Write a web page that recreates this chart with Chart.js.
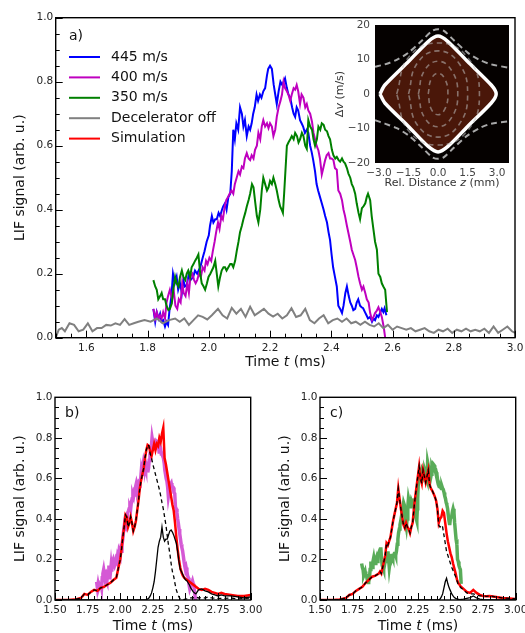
<!DOCTYPE html>
<html>
<head>
<meta charset="utf-8">
<script src="https://cdn.jsdelivr.net/npm/chart.js@4.4.0/dist/chart.umd.min.js"></script>
<style>
  html, body { margin: 0; padding: 0; background: #fff; }
  #wrap { position: relative; width: 525px; height: 633px; overflow: hidden; }
  #wrap canvas { position: absolute; left: 0; top: 0; }
</style>
</head>
<body>
<div id="wrap">
  <canvas id="chartA" width="525" height="633"></canvas>
  <canvas id="chartB" width="525" height="633"></canvas>
  <canvas id="chartC" width="525" height="633"></canvas>
  <canvas id="inset" width="525" height="633"></canvas>
</div>
<script>
// ---- panel a: measured LIF traces, [time (ms), signal] ----
const blue445 = [
  [1.819,0.09],[1.825,0.05],[1.830,0.08],[1.836,0.06],[1.841,0.075],[1.846,0.05],[1.851,0.055],[1.857,0.035],[1.862,0.05],[1.867,0.04],
  [1.872,0.09],[1.878,0.13],[1.883,0.20],[1.889,0.17],[1.895,0.19],[1.900,0.15],[1.906,0.17],[1.912,0.14],[1.917,0.18],[1.922,0.16],
  [1.928,0.165],[1.935,0.20],[1.940,0.18],[1.949,0.19],[1.955,0.21],[1.962,0.20],[1.972,0.22],[1.980,0.25],[1.986,0.27],[1.993,0.30],
  [2.000,0.32],[2.004,0.35],[2.010,0.38],[2.015,0.36],[2.021,0.37],[2.026,0.37],[2.032,0.39],[2.037,0.38],[2.043,0.40],[2.047,0.41],
  [2.053,0.42],[2.058,0.40],[2.064,0.44],[2.070,0.45],[2.075,0.52],[2.080,0.65],[2.085,0.62],[2.090,0.67],[2.096,0.65],[2.102,0.72],
  [2.108,0.70],[2.113,0.66],[2.118,0.68],[2.124,0.63],[2.130,0.66],[2.135,0.65],[2.140,0.67],[2.145,0.70],[2.150,0.72],[2.156,0.76],
  [2.161,0.74],[2.167,0.76],[2.172,0.75],[2.178,0.77],[2.184,0.78],[2.190,0.82],[2.194,0.84],[2.200,0.85],[2.206,0.84],[2.212,0.79],
  [2.217,0.76],[2.222,0.73],[2.228,0.77],[2.234,0.80],[2.240,0.79],[2.249,0.81],[2.255,0.78],[2.260,0.76],[2.266,0.75],[2.272,0.72],
  [2.277,0.70],[2.282,0.69],[2.287,0.72],[2.292,0.71],[2.298,0.68],[2.303,0.67],[2.308,0.66],[2.314,0.64],[2.320,0.65],[2.325,0.64],
  [2.331,0.60],[2.336,0.58],[2.341,0.555],[2.347,0.52],[2.352,0.48],[2.357,0.46],[2.363,0.44],[2.369,0.42],[2.375,0.40],[2.380,0.38],
  [2.386,0.36],[2.391,0.33],[2.396,0.305],[2.401,0.26],[2.406,0.22],[2.412,0.19],[2.418,0.16],[2.423,0.10],[2.429,0.09],[2.435,0.077],
  [2.440,0.10],[2.446,0.14],[2.451,0.16],[2.457,0.13],[2.462,0.11],[2.467,0.10],[2.472,0.086],[2.478,0.09],[2.483,0.11],[2.488,0.12],
  [2.494,0.10],[2.499,0.095],[2.504,0.092],[2.510,0.08],[2.515,0.07],[2.520,0.06],[2.527,0.065],[2.533,0.05],[2.538,0.06],[2.543,0.055],
  [2.549,0.07],[2.554,0.065],[2.559,0.077],[2.565,0.09],[2.570,0.08],[2.574,0.092],[2.580,0.07]
];
const mag400 = [
  [1.819,0.09],[1.825,0.06],[1.830,0.08],[1.836,0.06],[1.841,0.07],[1.846,0.06],[1.851,0.08],[1.857,0.06],[1.862,0.11],[1.867,0.13],
  [1.873,0.15],[1.880,0.12],[1.885,0.15],[1.891,0.10],[1.897,0.09],[1.902,0.12],[1.908,0.11],[1.913,0.17],[1.918,0.14],[1.924,0.13],
  [1.930,0.17],[1.935,0.14],[1.940,0.19],[1.946,0.20],[1.952,0.18],[1.957,0.17],[1.962,0.18],[1.968,0.20],[1.974,0.19],[1.980,0.22],
  [1.986,0.21],[1.991,0.24],[1.996,0.23],[2.002,0.25],[2.008,0.24],[2.013,0.27],[2.019,0.30],[2.024,0.33],[2.030,0.36],[2.035,0.34],
  [2.041,0.38],[2.046,0.37],[2.052,0.41],[2.057,0.43],[2.063,0.44],[2.068,0.45],[2.074,0.46],[2.080,0.45],[2.085,0.48],[2.091,0.50],
  [2.097,0.52],[2.102,0.51],[2.108,0.535],[2.113,0.53],[2.118,0.56],[2.124,0.577],[2.130,0.56],[2.135,0.555],[2.140,0.57],[2.146,0.56],
  [2.151,0.587],[2.157,0.60],[2.162,0.64],[2.168,0.62],[2.173,0.66],[2.178,0.68],[2.184,0.66],[2.190,0.67],[2.195,0.655],[2.200,0.67],
  [2.206,0.66],[2.211,0.63],[2.217,0.65],[2.222,0.69],[2.228,0.72],[2.234,0.74],[2.239,0.76],[2.244,0.80],[2.249,0.78],[2.255,0.77],
  [2.260,0.76],[2.266,0.74],[2.271,0.76],[2.277,0.78],[2.282,0.775],[2.287,0.79],[2.292,0.77],[2.298,0.73],[2.303,0.76],[2.309,0.75],
  [2.315,0.72],[2.320,0.73],[2.325,0.71],[2.331,0.70],[2.337,0.675],[2.342,0.64],[2.347,0.62],[2.352,0.60],[2.358,0.585],[2.363,0.56],
  [2.369,0.51],[2.374,0.53],[2.380,0.555],[2.385,0.57],[2.391,0.577],[2.396,0.56],[2.401,0.56],[2.407,0.555],[2.412,0.53],[2.418,0.525],
  [2.423,0.46],[2.429,0.45],[2.435,0.43],[2.440,0.40],[2.445,0.38],[2.451,0.35],[2.456,0.327],[2.462,0.30],[2.467,0.275],[2.472,0.26],
  [2.478,0.243],[2.483,0.22],[2.489,0.19],[2.494,0.17],[2.500,0.15],[2.505,0.16],[2.511,0.14],[2.516,0.12],[2.522,0.11],[2.527,0.077],
  [2.533,0.055],[2.538,0.065],[2.543,0.077],[2.549,0.085],[2.554,0.095],[2.560,0.08],[2.565,0.065],[2.571,0.035],[2.576,0.0]
];
const green350 = [
  [1.819,0.18],[1.825,0.16],[1.830,0.15],[1.835,0.12],[1.841,0.13],[1.846,0.14],[1.851,0.12],[1.857,0.12],[1.862,0.10],[1.868,0.086],
  [1.873,0.09],[1.879,0.107],[1.884,0.15],[1.890,0.19],[1.895,0.17],[1.901,0.16],[1.906,0.19],[1.912,0.21],[1.917,0.19],[1.923,0.18],
  [1.928,0.20],[1.933,0.21],[1.939,0.19],[1.944,0.22],[1.950,0.23],[1.955,0.24],[1.961,0.25],[1.966,0.26],[1.972,0.20],[1.977,0.17],
  [1.983,0.16],[1.988,0.15],[1.994,0.17],[1.999,0.19],[2.005,0.20],[2.010,0.21],[2.015,0.22],[2.021,0.24],[2.026,0.20],[2.031,0.16],
  [2.037,0.19],[2.042,0.21],[2.048,0.22],[2.053,0.22],[2.058,0.21],[2.064,0.22],[2.070,0.23],[2.075,0.23],[2.080,0.22],[2.086,0.24],
  [2.092,0.275],[2.097,0.30],[2.102,0.33],[2.108,0.35],[2.113,0.37],[2.119,0.39],[2.124,0.41],[2.130,0.43],[2.135,0.45],[2.141,0.48],
  [2.146,0.47],[2.152,0.42],[2.157,0.38],[2.162,0.36],[2.168,0.40],[2.173,0.46],[2.178,0.50],[2.184,0.48],[2.190,0.46],[2.195,0.47],
  [2.200,0.49],[2.206,0.48],[2.211,0.50],[2.217,0.48],[2.222,0.46],[2.228,0.43],[2.233,0.41],[2.238,0.40],[2.242,0.39],[2.246,0.45],
  [2.249,0.50],[2.255,0.60],[2.260,0.61],[2.266,0.62],[2.271,0.63],[2.277,0.62],[2.282,0.64],[2.288,0.63],[2.293,0.61],[2.298,0.62],
  [2.304,0.64],[2.309,0.63],[2.315,0.60],[2.320,0.59],[2.325,0.68],[2.331,0.66],[2.337,0.65],[2.342,0.62],[2.347,0.60],[2.353,0.62],
  [2.358,0.66],[2.364,0.65],[2.369,0.67],[2.375,0.665],[2.380,0.65],[2.386,0.645],[2.391,0.63],[2.396,0.62],[2.402,0.587],[2.407,0.57],
  [2.413,0.56],[2.418,0.565],[2.424,0.555],[2.429,0.55],[2.435,0.56],[2.440,0.55],[2.445,0.545],[2.451,0.53],[2.456,0.513],[2.462,0.50],
  [2.467,0.48],[2.472,0.47],[2.478,0.45],[2.483,0.42],[2.489,0.39],[2.494,0.37],[2.500,0.405],[2.505,0.41],[2.511,0.42],[2.516,0.44],
  [2.520,0.45],[2.527,0.43],[2.532,0.38],[2.538,0.336],[2.543,0.30],[2.549,0.275],[2.554,0.20],[2.560,0.19],[2.565,0.17],[2.570,0.16],
  [2.576,0.15],[2.582,0.08]
];
const decelOff = [
  [1.500,0.0],[1.510,0.025],[1.520,0.03],[1.530,0.02],[1.545,0.045],[1.560,0.04],[1.575,0.02],[1.590,0.025],[1.605,0.045],[1.620,0.02],
  [1.635,0.03],[1.650,0.03],[1.665,0.04],[1.680,0.038],[1.695,0.045],[1.710,0.04],[1.725,0.058],[1.740,0.04],[1.755,0.045],[1.770,0.05],
  [1.790,0.055],[1.810,0.05],[1.830,0.06],[1.850,0.045],[1.870,0.055],[1.890,0.06],[1.905,0.05],[1.920,0.06],[1.935,0.04],[1.950,0.055],
  [1.965,0.07],[1.980,0.065],[1.995,0.057],[2.010,0.07],[2.030,0.09],[2.045,0.07],[2.060,0.06],[2.075,0.093],[2.090,0.075],[2.105,0.09],
  [2.120,0.065],[2.135,0.097],[2.150,0.07],[2.165,0.08],[2.180,0.09],[2.195,0.075],[2.210,0.066],[2.225,0.075],[2.240,0.06],[2.255,0.07],
  [2.270,0.092],[2.285,0.065],[2.300,0.07],[2.315,0.09],[2.330,0.055],[2.345,0.045],[2.360,0.06],[2.375,0.07],[2.390,0.045],[2.405,0.055],
  [2.420,0.06],[2.435,0.05],[2.450,0.06],[2.465,0.045],[2.480,0.05],[2.495,0.04],[2.510,0.05],[2.525,0.04],[2.540,0.035],[2.555,0.045],
  [2.570,0.03],[2.585,0.04],[2.600,0.025],[2.615,0.035],[2.630,0.03],[2.645,0.025],[2.660,0.03],[2.675,0.02],[2.690,0.025],[2.705,0.03],
  [2.720,0.02],[2.735,0.015],[2.750,0.025],[2.765,0.02],[2.780,0.028],[2.795,0.015],[2.810,0.025],[2.825,0.02],[2.840,0.028],[2.855,0.02],
  [2.870,0.025],[2.885,0.02],[2.900,0.028],[2.915,0.015],[2.930,0.035],[2.945,0.015],[2.960,0.025],[2.975,0.035],[2.990,0.02],[3.000,0.015]
];

// ---- panel b: simulation for 400 m/s (total, dashed part, solid part) ----
const simB = [
  [1.50,0],[1.55,0],[1.60,0],[1.65,0.002],[1.70,0.01],[1.725,0.03],[1.75,0.025],[1.775,0.04],[1.80,0.05],[1.825,0.045],
  [1.85,0.06],[1.875,0.065],[1.90,0.075],[1.925,0.085],[1.95,0.10],[1.96,0.105],[1.97,0.11],[1.98,0.14],[1.99,0.17],[2.00,0.20],
  [2.01,0.25],[2.02,0.31],[2.03,0.36],[2.04,0.42],[2.05,0.41],[2.06,0.36],[2.07,0.38],[2.08,0.41],[2.09,0.38],[2.10,0.34],
  [2.11,0.36],[2.12,0.39],[2.13,0.44],[2.14,0.49],[2.15,0.55],[2.16,0.59],[2.17,0.62],[2.18,0.65],[2.19,0.70],[2.20,0.74],
  [2.21,0.765],[2.22,0.76],[2.23,0.73],[2.24,0.71],[2.25,0.74],[2.26,0.77],[2.27,0.74],[2.28,0.77],[2.29,0.76],[2.30,0.80],
  [2.31,0.78],[2.32,0.82],[2.33,0.85],[2.34,0.70],[2.35,0.67],[2.36,0.63],[2.37,0.59],[2.38,0.55],[2.39,0.51],[2.40,0.47],
  [2.41,0.44],[2.42,0.38],[2.43,0.31],[2.44,0.25],[2.45,0.20],[2.46,0.16],[2.47,0.135],[2.48,0.12],[2.49,0.11],[2.50,0.105],
  [2.51,0.10],[2.52,0.095],[2.53,0.09],[2.54,0.085],[2.55,0.08],[2.56,0.075],[2.57,0.07],[2.58,0.065],[2.59,0.06],[2.60,0.055],
  [2.625,0.05],[2.65,0.055],[2.675,0.05],[2.70,0.04],[2.725,0.035],[2.75,0.03],[2.775,0.035],[2.80,0.03],[2.85,0.025],[2.90,0.02],
  [2.95,0.02],[3.00,0.025]
];
const dashBSplit = 2.22;   // dashed part follows the total up to here
const dashBTail = [
  [2.23,0.72],[2.24,0.70],[2.25,0.67],[2.26,0.645],[2.27,0.62],[2.28,0.595],[2.29,0.57],[2.30,0.545],[2.31,0.515],[2.32,0.48],
  [2.33,0.45],[2.34,0.41],[2.35,0.37],[2.36,0.32],[2.37,0.27],[2.38,0.23],[2.39,0.18],[2.40,0.14],[2.41,0.115],[2.42,0.08],
  [2.43,0.05],[2.44,0.03],[2.45,0.015],[2.46,0.005],[2.48,0.002],[2.50,0.004],[2.52,0.006],[2.54,0.01],[2.56,0.01],[2.58,0.015],
  [2.60,0.01],[2.625,0.012],[2.65,0.01],[2.675,0.015],[2.70,0.01],[2.75,0.008],[2.80,0.008],[2.85,0.01],[2.90,0.005],[2.95,0.008],[3.00,0.01]
];
const solidB = [
  [1.50,0],[2.20,0],[2.21,0.005],[2.22,0.01],[2.23,0.02],[2.24,0.035],[2.25,0.06],[2.26,0.09],[2.27,0.14],[2.28,0.20],
  [2.29,0.26],[2.30,0.29],[2.31,0.31],[2.32,0.36],[2.33,0.31],[2.34,0.29],[2.35,0.30],[2.36,0.30],[2.37,0.32],[2.38,0.34],
  [2.39,0.345],[2.40,0.335],[2.41,0.32],[2.42,0.30],[2.43,0.28],[2.44,0.24],[2.45,0.19],[2.46,0.15],[2.47,0.14],[2.48,0.125],
  [2.49,0.11],[2.50,0.10],[2.51,0.095],[2.52,0.085],[2.53,0.075],[2.54,0.06],[2.55,0.05],[2.56,0.04],[2.57,0.035],[2.58,0.03],
  [2.59,0.04],[2.60,0.05],[2.625,0.055],[2.65,0.045],[2.675,0.04],[2.70,0.03],[2.725,0.025],[2.75,0.02],[2.775,0.025],[2.80,0.02],
  [2.85,0.02],[2.90,0.015],[2.95,0.01],[3.00,0.015]
];

// ---- panel c: simulation for 350 m/s ----
const simC = [
  [1.50,0],[1.55,0],[1.60,0],[1.65,0.003],[1.70,0.01],[1.725,0.025],[1.75,0.03],[1.775,0.045],[1.80,0.055],[1.825,0.065],
  [1.85,0.085],[1.875,0.10],[1.90,0.115],[1.925,0.12],[1.95,0.13],[1.96,0.14],[1.97,0.13],[1.98,0.16],[1.99,0.19],[2.00,0.22],
  [2.01,0.28],[2.02,0.27],[2.03,0.29],[2.04,0.31],[2.05,0.35],[2.06,0.39],[2.07,0.42],[2.08,0.45],[2.09,0.48],[2.10,0.55],
  [2.11,0.50],[2.12,0.45],[2.13,0.41],[2.14,0.37],[2.15,0.355],[2.16,0.38],[2.17,0.36],[2.18,0.35],[2.19,0.33],[2.20,0.36],
  [2.21,0.38],[2.22,0.45],[2.23,0.51],[2.24,0.56],[2.25,0.61],[2.26,0.66],[2.27,0.60],[2.28,0.575],[2.29,0.64],[2.30,0.61],
  [2.31,0.58],[2.32,0.61],[2.33,0.64],[2.34,0.57],[2.35,0.55],[2.36,0.54],[2.37,0.525],[2.38,0.51],[2.39,0.49],[2.40,0.45],
  [2.41,0.38],[2.42,0.40],[2.43,0.41],[2.44,0.44],[2.45,0.43],[2.46,0.38],[2.47,0.33],[2.48,0.29],[2.49,0.26],[2.50,0.23],
  [2.51,0.21],[2.52,0.18],[2.53,0.155],[2.54,0.13],[2.55,0.10],[2.56,0.083],[2.57,0.075],[2.58,0.065],[2.59,0.06],[2.60,0.055],
  [2.625,0.04],[2.65,0.035],[2.675,0.05],[2.70,0.035],[2.725,0.025],[2.75,0.02],[2.775,0.018],[2.80,0.02],[2.85,0.015],[2.90,0.01],
  [2.95,0.008],[3.00,0.005]
];
const dashCSplit = 2.40;
const dashCTail = [
  [2.41,0.37],[2.42,0.36],[2.43,0.37],[2.44,0.36],[2.45,0.32],[2.46,0.28],[2.47,0.24],[2.48,0.22],[2.49,0.20],[2.50,0.18],
  [2.51,0.16],[2.52,0.145],[2.53,0.13],[2.54,0.115],[2.55,0.095],[2.56,0.075],[2.57,0.07],[2.58,0.06],[2.59,0.055],[2.60,0.05],
  [2.625,0.035],[2.65,0.03],[2.675,0.03],[2.70,0.025],[2.725,0.02],[2.75,0.02],[2.775,0.018],[2.80,0.02],[2.85,0.015],[2.90,0.01],
  [2.95,0.008],[3.00,0.005]
];
const solidC = [
  [1.50,0],[2.41,0],[2.42,0.005],[2.43,0.015],[2.44,0.03],[2.45,0.06],[2.46,0.09],[2.47,0.107],[2.48,0.08],[2.49,0.06],
  [2.50,0.045],[2.51,0.03],[2.52,0.02],[2.53,0.012],[2.54,0.008],[2.55,0.005],[2.57,0.002],[2.60,0.004],[2.625,0.008],[2.65,0.012],
  [2.675,0.02],[2.70,0.01],[2.725,0.004],[2.75,0.002],[2.80,0],[3.00,0]
];

// ---- inset: longitudinal phase space, [z (mm), dv (m/s)] ----
const separatrix = [
  [-2.95,0],[-2.7,2.6],[-1.5,9.4],[-0.5,15.2],[0,16.8],[0.5,15.2],[1.5,9.4],[2.7,2.6],[2.95,0],
  [2.7,-2.6],[1.5,-9.4],[0.5,-15.2],[0,-16.8],[-0.5,-15.2],[-1.5,-9.4],[-2.7,-2.6],[-2.95,0]
];
const outerUpper = [[-3.2,7.9],[-2.7,8.6],[-2.1,9.9],[-1.5,12.0],[-0.8,15.6],[-0.3,18.3],[0,18.8],[0.3,18.3],[0.8,15.6],[1.5,12.0],[2.1,9.9],[2.7,8.6],[3.6,7.6]];
const outerLower = [[-3.2,-7.6],[-2.7,-8.6],[-2.1,-9.9],[-1.5,-12.0],[-0.8,-15.6],[-0.3,-18.3],[0,-18.8],[0.3,-18.3],[0.8,-15.6],[1.5,-12.0],[2.1,-9.9],[2.7,-8.6],[3.6,-7.9]];
const orbit1 = [[-0.5,0],[-0.35,4.3],[0,6],[0.35,4.3],[0.5,0],[0.35,-4.3],[0,-6],[-0.35,-4.3],[-0.5,0]];
const orbit2 = [[-1.0,0],[-0.7,6.7],[0,9.5],[0.7,6.7],[1.0,0],[0.7,-6.7],[0,-9.5],[-0.7,-6.7],[-1.0,0]];
const orbit3 = [[-1.5,0],[-1.06,8.9],[0,12.5],[1.06,8.9],[1.5,0],[1.06,-8.9],[0,-12.5],[-1.06,-8.9],[-1.5,0]];
const orbit4 = [[-2.1,0],[-1.5,10.6],[0,14.8],[1.5,10.6],[2.1,0],[1.5,-10.6],[0,-14.8],[-1.5,-10.6],[-2.1,0]];

// ---- axis ticks ----
const aTicksX = [1.6, 1.8, 2.0, 2.2, 2.4, 2.6, 2.8, 3.0];
const bcTicksX = [1.5, 1.75, 2.0, 2.25, 2.5, 2.75, 3.0];
const sigTicks = [0.0, 0.2, 0.4, 0.6, 0.8, 1.0];
const insetTicksX = [-3.0, -1.5, 0.0, 1.5, 3.0];
const insetTicksY = [-20, -10, 0, 10, 20];

const legendNames = ['445 m/s', '400 m/s', '350 m/s', 'Decelerator off', 'Simulation'];
const legendColors = ['#0000ff', '#bf00bf', '#008000', '#808080', '#ff0000'];

const FONT = 'DejaVu Sans';
const pts = arr => arr.map(p => ({x: p[0], y: p[1]}));

function line(data, color, width, extra) {
  return Object.assign({data: pts(data), borderColor: color, borderWidth: width, pointRadius: 0, tension: 0, fill: false}, extra || {});
}

// inward ticks on bottom/left + black frame
function frameTicks(xMajorEvery, yMajorEvery) {
  return {
    id: 'frameTicks',
    afterDatasetsDraw(chart) {
      const {ctx, chartArea: a, scales: {x, y}} = chart;
      ctx.save();
      ctx.strokeStyle = '#000';
      ctx.lineWidth = 1;
      ctx.beginPath();
      for (let k = Math.ceil(x.min / 0.05 - 1e-6); k <= Math.floor(x.max / 0.05 + 1e-6); k++) {
        const px = Math.round(x.getPixelForValue(k * 0.05)) + 0.5;
        const len = k % xMajorEvery === 0 ? 7 : 4;
        ctx.moveTo(px, a.bottom); ctx.lineTo(px, a.bottom - len);
      }
      for (let k = Math.ceil(y.min / 0.05 - 1e-6); k <= Math.floor(y.max / 0.05 + 1e-6); k++) {
        const py = Math.round(y.getPixelForValue(k * 0.05)) + 0.5;
        const len = k % yMajorEvery === 0 ? 7 : 4;
        ctx.moveTo(a.left, py); ctx.lineTo(a.left + len, py);
      }
      ctx.stroke();
      ctx.lineWidth = 1.4;
      ctx.strokeRect(a.left, a.top, a.right - a.left, a.bottom - a.top);
      ctx.restore();
    }
  };
}

// axis titles with an italic symbol, and panel letters
function textPlugin(items) {
  return {
    id: 'texts',
    afterDraw(chart) {
      const ctx = chart.ctx;
      items.forEach(it => {
        ctx.save();
        ctx.translate(it.x, it.y);
        if (it.rot) ctx.rotate(-Math.PI / 2);
        ctx.fillStyle = it.color || '#111';
        ctx.textBaseline = 'middle';
        ctx.textAlign = 'left';
        const fonts = it.parts.map(p => (p.i ? 'italic ' : '') + it.size + 'px "' + FONT + '"');
        let total = 0;
        const widths = it.parts.map((p, k) => { ctx.font = fonts[k]; const w = ctx.measureText(p.t).width; total += w; return w; });
        let cx = it.left ? 0 : -total / 2;
        it.parts.forEach((p, k) => { ctx.font = fonts[k]; ctx.fillText(p.t, cx, 0); cx += widths[k]; });
        ctx.restore();
      });
    }
  };
}

const legendA = {
  id: 'legendA',
  afterDatasetsDraw(chart) {
    const ctx = chart.ctx;
    ctx.save();
    ctx.font = '14px "' + FONT + '"';
    ctx.textBaseline = 'middle';
    ctx.fillStyle = '#111';
    legendNames.forEach((name, i) => {
      const yy = 57 + i * 20.4;
      ctx.strokeStyle = legendColors[i];
      ctx.lineWidth = 2;
      ctx.beginPath(); ctx.moveTo(69, yy); ctx.lineTo(100, yy); ctx.stroke();
      ctx.fillText(name, 111, yy);
    });
    ctx.restore();
  }
};

function axes(o) {
  const tickFont = {family: FONT, size: o.tickSize || 10.5};
  return {
    x: {
      type: 'linear', min: o.xmin, max: o.xmax,
      grid: {display: false, drawTicks: false}, border: {display: false},
      ticks: {font: tickFont, color: o.tickColor || '#222', padding: o.xPad, maxRotation: 0, autoSkip: false, callback: o.xFmt},
      afterBuildTicks: s => { s.ticks = o.xTicks.map(v => ({value: v})); },
      afterFit: s => { s.height = o.xHeight; s.paddingLeft = 0; s.paddingRight = 0; }
    },
    y: {
      type: 'linear', min: o.ymin, max: o.ymax,
      grid: {display: false, drawTicks: false}, border: {display: false},
      ticks: {font: tickFont, color: o.tickColor || '#222', padding: o.yPad, autoSkip: false, callback: o.yFmt},
      afterBuildTicks: s => { s.ticks = o.yTicks.map(v => ({value: v})); },
      afterFit: s => { s.width = o.yWidth; s.paddingTop = 0; s.paddingBottom = 0; }
    }
  };
}

function baseOptions(padding, scales) {
  return {
    responsive: false, animation: false, devicePixelRatio: 1, events: [],
    layout: {padding: padding},
    plugins: {legend: {display: false}, tooltip: {enabled: false}},
    scales: scales
  };
}

const fmt1 = v => Number(v).toFixed(1);
const fmt2 = v => Number(v).toFixed(2);
const fmtSigned1 = v => (v < 0 ? '\u2212' : '') + Math.abs(v).toFixed(1);
const fmtSigned0 = v => (v < 0 ? '\u2212' : '') + Math.abs(v);

const timeTitle = [{t: 'Time '}, {t: 't', i: true}, {t: ' (ms)'}];
const lifTitle = [{t: 'LIF signal (arb. u.)'}];

// panel a
new Chart(document.getElementById('chartA'), {
  type: 'line',
  data: {
    datasets: [
      line(decelOff, legendColors[3], 2),
      line(green350, legendColors[2], 2),
      line(mag400, legendColors[1], 2),
      line(blue445, legendColors[0], 2)
    ]
  },
  options: baseOptions({left: 0, right: 10, top: 17.7, bottom: 265.3},
    axes({xmin: 1.5, xmax: 3.0, ymin: 0, ymax: 1, xTicks: aTicksX, yTicks: sigTicks, xFmt: fmt1, yFmt: fmt1,
          xPad: 4, yPad: 2.5, xHeight: 30, yWidth: 55.7})),
  plugins: [frameTicks(4, 4), legendA, textPlugin([
    {parts: [{t: 'a)'}], x: 69, y: 36.5, size: 14, left: true},
    {parts: timeTitle, x: 285.4, y: 362, size: 14},
    {parts: lifTitle, x: 20, y: 177.7, size: 14, rot: true}
  ])]
});

// panel b
const dashB = simB.filter(p => p[0] <= dashBSplit).concat(dashBTail);
new Chart(document.getElementById('chartB'), {
  type: 'line',
  data: {
    datasets: [
      line(solidB, '#000', 1.3),
      line(dashB, '#000', 1.3, {borderDash: [4, 3]}),
      line(simB, '#ff0000', 2.5),
      line(mag400, 'rgba(191,0,191,0.65)', 3.5)
    ]
  },
  options: baseOptions({left: 0, right: 274.3, top: 397.3, bottom: 3},
    axes({xmin: 1.5, xmax: 3.0, ymin: 0, ymax: 1, xTicks: bcTicksX, yTicks: sigTicks, xFmt: fmt2, yFmt: fmt1,
          xPad: 4, yPad: 2.5, xHeight: 30, yWidth: 55})),
  plugins: [frameTicks(5, 4), textPlugin([
    {parts: [{t: 'b)'}], x: 65, y: 413.5, size: 14, left: true},
    {parts: timeTitle, x: 152.9, y: 626, size: 14},
    {parts: lifTitle, x: 20, y: 498.7, size: 14, rot: true}
  ])]
});

// panel c
const dashC = simC.filter(p => p[0] <= dashCSplit).concat(dashCTail);
new Chart(document.getElementById('chartC'), {
  type: 'line',
  data: {
    datasets: [
      line(solidC, '#000', 1.3),
      line(dashC, '#000', 1.3, {borderDash: [4, 3]}),
      line(simC, '#ff0000', 2.5),
      line(green350, 'rgba(0,128,0,0.65)', 3.5)
    ]
  },
  options: baseOptions({left: 265, right: 9.3, top: 397.3, bottom: 3},
    axes({xmin: 1.5, xmax: 3.0, ymin: 0, ymax: 1, xTicks: bcTicksX, yTicks: sigTicks, xFmt: fmt2, yFmt: fmt1,
          xPad: 4, yPad: 2.5, xHeight: 30, yWidth: 55})),
  plugins: [frameTicks(5, 4), textPlugin([
    {parts: [{t: 'c)'}], x: 330, y: 413.5, size: 14, left: true},
    {parts: timeTitle, x: 417.9, y: 626, size: 14},
    {parts: lifTitle, x: 285, y: 498.7, size: 14, rot: true}
  ])]
});

// inset phase-space map
const darkBg = {
  id: 'darkBg',
  beforeDatasetsDraw(chart) {
    const {ctx, chartArea: a} = chart;
    ctx.save();
    ctx.fillStyle = '#050100';
    ctx.fillRect(a.left, a.top, a.right - a.left, a.bottom - a.top);
    ctx.restore();
  }
};
const orbitStyle = {borderDash: [5, 4], tension: 0.45};
new Chart(document.getElementById('inset'), {
  type: 'line',
  data: {
    datasets: [
      line(orbit1, 'rgba(190,190,190,0.55)', 1.6, orbitStyle),
      line(orbit2, 'rgba(190,190,190,0.55)', 1.6, orbitStyle),
      line(orbit3, 'rgba(190,190,190,0.55)', 1.6, orbitStyle),
      line(orbit4, 'rgba(190,190,190,0.55)', 1.6, orbitStyle),
      line(outerUpper, '#a8a8a8', 2, {borderDash: [6, 4], tension: 0.3}),
      line(outerLower, '#a8a8a8', 2, {borderDash: [6, 4], tension: 0.3}),
      line(separatrix, '#ffffff', 3.5, {tension: 0.25, fill: 'shape', backgroundColor: '#4a1709'})
    ]
  },
  options: baseOptions({left: 330, right: 16, top: 25, bottom: 450},
    axes({xmin: -3.2, xmax: 3.6, ymin: -20, ymax: 20, xTicks: insetTicksX, yTicks: insetTicksY, xFmt: fmtSigned1, yFmt: fmtSigned0,
          xPad: 4, yPad: 5, xHeight: 20, yWidth: 45, tickColor: '#444', tickSize: 10.5})),
  plugins: [darkBg, textPlugin([
    {parts: [{t: 'Rel. Distance '}, {t: 'z', i: true}, {t: ' (mm)'}], x: 442, y: 183, size: 11, color: '#333'},
    {parts: [{t: '\u0394'}, {t: 'v', i: true}, {t: ' (m/s)'}], x: 340, y: 94, size: 11, color: '#333', rot: true}
  ])]
});
</script>
</body>
</html>
